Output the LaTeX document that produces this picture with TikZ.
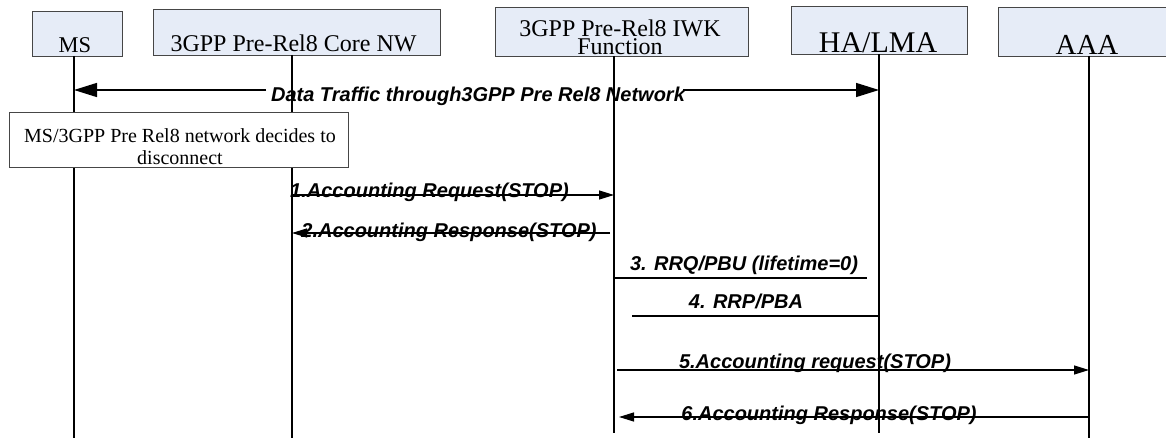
\documentclass[tikz,border=0pt]{standalone}
\usepackage{fontspec}
\setmainfont{Liberation Serif}
\setsansfont{Liberation Sans}
\usetikzlibrary{arrows.meta}
\definecolor{boxfill}{RGB}{230,236,247}
\definecolor{boxline}{RGB}{70,70,70}
\tikzset{
  box/.style={draw=boxline, fill=boxfill, line width=0.9pt, inner sep=0pt},
  lifeline/.style={line width=1.4pt},
  msg/.style={line width=1.3pt},
  msgarrow/.style={msg, -{Triangle[length=15pt,width=9pt]}},
  bigarrow/.style={line width=1.4pt, -{Triangle[length=23pt,width=14pt]}},
  boxtxt/.style={inner sep=0pt, anchor=base},
  msgtxt/.style={inner sep=0pt, anchor=base, font=\fontsize{20}{22}\selectfont\sffamily\bfseries\itshape},
}
\begin{document}
\begin{tikzpicture}[x=1pt,y=-1pt]
\path[use as bounding box, clip] (0,0) rectangle (1166,438);

\node[box, minimum width=90pt, minimum height=45pt] (ms) at (77,33.5) {};
\node[box, minimum width=287pt, minimum height=46pt] (core) at (296.5,32) {};
\node[box, minimum width=253pt, minimum height=49pt] (iwk) at (621.5,31.5) {};
\node[box, minimum width=176pt, minimum height=48pt] (ha) at (879,30) {};
\node[box, minimum width=182pt, minimum height=49pt] (aaa) at (1089,31.5) {};

\node[boxtxt, font=\fontsize{22.5}{24}\selectfont] (mstxt) at (75,53) {MS};
\node[boxtxt, font=\fontsize{24}{26}\selectfont] (coretxt) at (293.5,52) {3GPP Pre-Rel8 Core NW};
\node[boxtxt, align=center, font=\fontsize{24}{18}\selectfont] (iwktxt) at (620,55) {3GPP Pre-Rel8 IWK\\Function};
\node[boxtxt, font=\fontsize{30}{32}\selectfont] (hatxt) at (878,53) {HA/LMA};
\node[boxtxt, font=\fontsize{29}{31}\selectfont] (aaatxt) at (1087,55) {AAA};

% lifelines
\coordinate (msT) at (74,56);    \coordinate (msB) at (74,438);
\coordinate (coreT) at (292,55); \coordinate (coreB) at (292,438);
\coordinate (iwkT) at (614,56);  \coordinate (iwkB) at (614,433);
\coordinate (haT) at (879,54);   \coordinate (haB) at (879,433);
\coordinate (aaaT) at (1089,56); \coordinate (aaaB) at (1089,438);
\path[draw,lifeline] (msT) -- (msB);
\path[draw,lifeline] (coreT) -- (coreB);
\path[draw,lifeline] (iwkT) -- (iwkB);
\path[draw,lifeline] (haT) -- (haB);
\path[draw,lifeline] (aaaT) -- (aaaB);

% data traffic
\node[msgtxt] (dtxt) at (478,102) {Data Traffic through3GPP Pre Rel8 Network};
\coordinate (d0) at (74,90);  \coordinate (d1) at (266,90);
\coordinate (d2) at (683,90); \coordinate (d3) at (879,90);
\path[draw,bigarrow] (d1) -- (d0);
\path[draw,bigarrow] (d2) -- (d3);

\node[draw=boxline, fill=white, line width=0.9pt, minimum width=339pt, minimum height=55pt] (decide) at (178.5,139.5) {};
\node[boxtxt, align=center, font=\fontsize{20}{22}\selectfont] (decidetxt) at (180,165) {MS/3GPP Pre Rel8 network decides to\\disconnect};

% messages
\coordinate (m1a) at (292,195);  \coordinate (m1b) at (614,195);
\coordinate (m2a) at (610,233);  \coordinate (m2b) at (292,233);
\coordinate (m3a) at (614,278);  \coordinate (m3b) at (867,278);
\coordinate (m4a) at (879,316);  \coordinate (m4b) at (632,316);
\coordinate (m5a) at (617,370);  \coordinate (m5b) at (1089,370);
\coordinate (m6a) at (1089,417); \coordinate (m6b) at (619,417);

\node[msgtxt] (t1) at (429.5,198) {1.Accounting Request(STOP)};
\node[msgtxt] (t2) at (449,237) {2.Accounting Response(STOP)};
\node[msgtxt] (t3) at (744,270) {3. RRQ/PBU (lifetime=0)};
\node[msgtxt] (t4) at (746,308) {4. RRP/PBA};
\node[msgtxt] (t5) at (815,368) {5.Accounting request(STOP)};
\node[msgtxt] (t6) at (829,420) {6.Accounting Response(STOP)};

\path[draw,msgarrow] (m1a) -- (m1b);
\path[draw,msgarrow] (m2a) -- (m2b);
\path[draw,msg] (m3a) -- (m3b);
\path[draw,msg] (m4a) -- (m4b);
\path[draw,msgarrow] (m5a) -- (m5b);
\path[draw,msgarrow] (m6a) -- (m6b);
\end{tikzpicture}
\end{document}
